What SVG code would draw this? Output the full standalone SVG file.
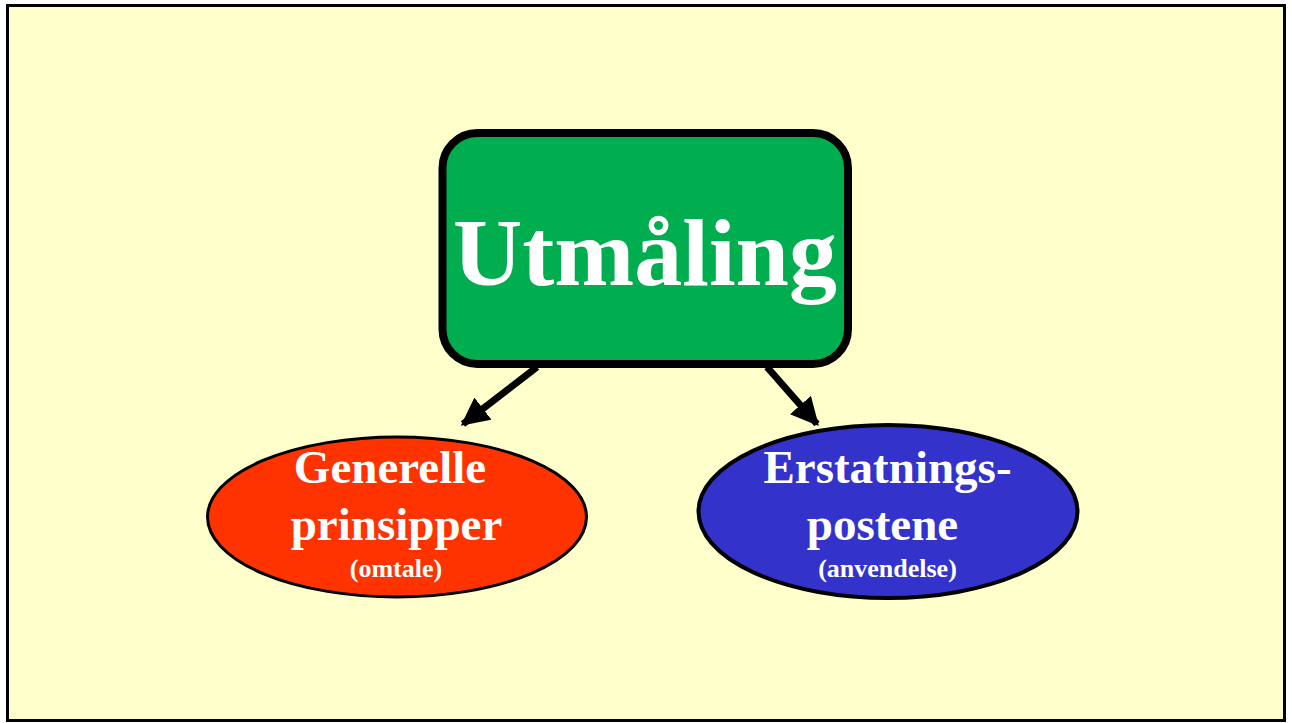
<svg xmlns="http://www.w3.org/2000/svg" width="1292" height="723" viewBox="0 0 1292 723">
<style>
.t{font-family:"Liberation Serif","Times New Roman",serif;font-weight:bold;fill:#FFFFFF;text-anchor:middle}
.big{font-size:47px}
.small{font-size:26px}
.conn{stroke:#000;stroke-width:7;fill:none}
</style>
<defs>
<marker id="ah" viewBox="0 0 10 10" refX="9" refY="5" markerWidth="4" markerHeight="4" markerUnits="strokeWidth" orient="auto">
<path d="M0,0 L10,5 L0,10 z" fill="#000"/>
</marker>
</defs>
<rect x="0" y="0" width="1292" height="723" fill="#FFFFFF"/>
<rect x="7.5" y="5.5" width="1277" height="715" fill="#FFFFCC" stroke="#000" stroke-width="3"/>
<g id="connectors">
<line class="conn" x1="537" y1="367" x2="463" y2="424" marker-end="url(#ah)"/>
<line class="conn" x1="767" y1="367" x2="817" y2="424" marker-end="url(#ah)"/>
</g>
<g id="utmaling">
<rect x="442.5" y="133" width="405.5" height="231" rx="35" ry="35" fill="#00AE4F" stroke="#000" stroke-width="8"/>
<text class="t" x="645" y="285" font-size="96">Utmåling</text>
</g>
<g id="generelle">
<ellipse cx="397" cy="517" rx="189.5" ry="80" fill="#FF3300" stroke="#000" stroke-width="3"/>
<text class="t big" x="390" y="483">Generelle</text>
<text class="t big" x="396.5" y="540">prinsipper</text>
<text class="t small" x="396" y="577">(omtale)</text>
</g>
<g id="erstatning">
<ellipse cx="888" cy="511.5" rx="189.5" ry="86.5" fill="#3333CC" stroke="#000" stroke-width="4"/>
<text class="t big" x="887.5" y="483">Erstatnings-</text>
<text class="t big" x="882.5" y="540">postene</text>
<text class="t small" x="887.5" y="577">(anvendelse)</text>
</g>
</svg>
